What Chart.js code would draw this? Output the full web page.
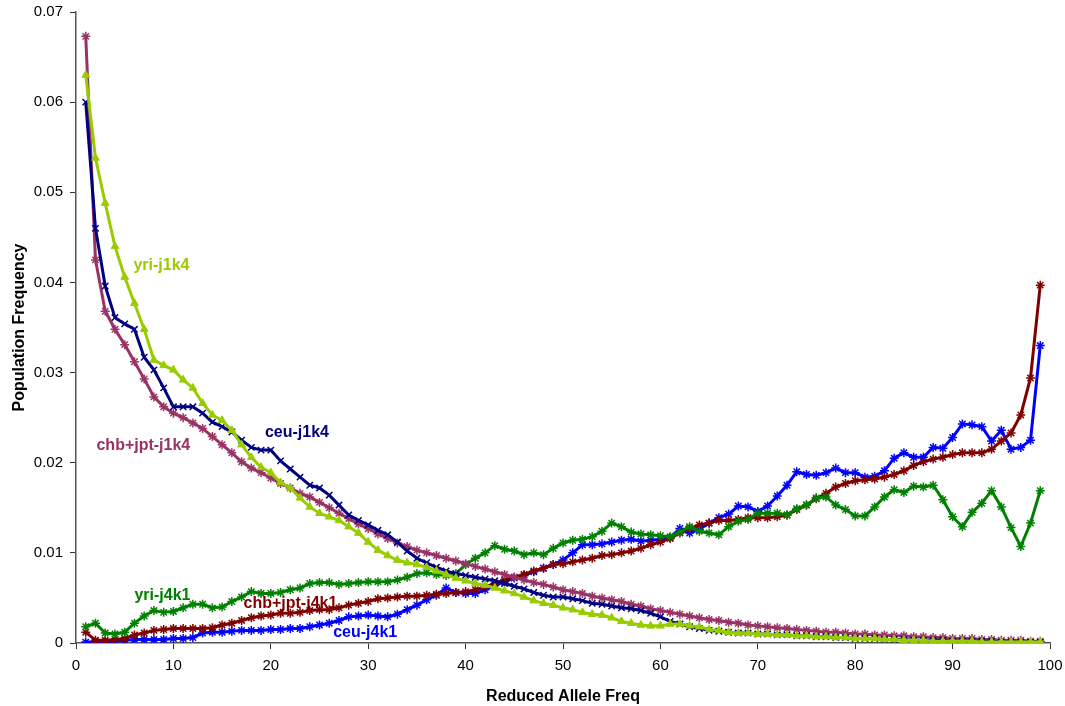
<!DOCTYPE html>
<html>
<head>
<meta charset="utf-8">
<script src="https://cdn.jsdelivr.net/npm/chart.js@4/dist/chart.umd.min.js"></script>
<style>
  html, body { margin: 0; padding: 0; background: #fff; }
  #wrap { width: 1065px; height: 706px; }
</style>
</head>
<body>
<div id="wrap"><canvas id="chart" width="1065" height="706"></canvas></div>
<script>
// Reduced allele frequency bins
const freq = [1,2,3,4,5,6,7,8,9,10,11,12,13,14,15,16,17,18,19,20,
  21,22,23,24,25,26,27,28,29,30,31,32,33,34,35,36,37,38,39,40,
  41,42,43,44,45,46,47,48,49,50,51,52,53,54,55,56,57,58,59,60,
  61,62,63,64,65,66,67,68,69,70,71,72,73,74,75,76,77,78,79,80,
  81,82,83,84,85,86,87,88,89,90,91,92,93,94,95,96,97,98,99];

const yriJ1k4 = [0.0630,0.0538,0.0488,0.0440,0.0406,0.0377,0.0348,0.0314,0.0308,0.0303,
  0.0292,0.0283,0.0266,0.0253,0.0247,0.0236,0.0220,0.0206,0.0195,0.0189,
  0.0178,0.0172,0.0161,0.0151,0.0144,0.0140,0.0136,0.0129,0.0122,0.0112,
  0.0103,0.0097,0.0092,0.0089,0.0087,0.0084,0.0080,0.0076,0.0072,0.0069,
  0.0066,0.0064,0.0061,0.0058,0.0055,0.0051,0.0047,0.0044,0.0042,0.0039,
  0.0037,0.0034,0.0032,0.0031,0.0028,0.0024,0.0022,0.0020,0.0019,0.0019,
  0.0021,0.0021,0.0019,0.0018,0.0015,0.0014,0.0012,0.0011,0.0011,0.0010,
  0.0010,0.0009,0.0009,0.0008,0.0008,0.0007,0.0007,0.0006,0.0006,0.0005,
  0.0005,0.0005,0.0004,0.0004,0.0003,0.0003,0.0003,0.0002,0.0002,0.0002,
  0.0002,0.0002,0.0001,0.0001,0.0001,0.0001,0.0001,0.0001,0.0001];

const ceuJ1k4 = [0.0600,0.0460,0.0396,0.0361,0.0354,0.0348,0.0317,0.0303,0.0283,0.0262,
  0.0262,0.0262,0.0255,0.0245,0.0240,0.0234,0.0225,0.0217,0.0214,0.0214,
  0.0202,0.0193,0.0184,0.0175,0.0172,0.0164,0.0153,0.0142,0.0136,0.0131,
  0.0125,0.0120,0.0112,0.0102,0.0094,0.0089,0.0084,0.0080,0.0077,0.0075,
  0.0073,0.0071,0.0069,0.0066,0.0063,0.0060,0.0056,0.0053,0.0051,0.0051,
  0.0049,0.0047,0.0044,0.0043,0.0041,0.0039,0.0038,0.0036,0.0033,0.0029,
  0.0024,0.0021,0.0018,0.0016,0.0014,0.0013,0.0012,0.0011,0.0011,0.0010,
  0.0010,0.0009,0.0009,0.0008,0.0008,0.0007,0.0007,0.0006,0.0006,0.0005,
  0.0005,0.0005,0.0004,0.0004,0.0004,0.0003,0.0003,0.0003,0.0003,0.0002,
  0.0002,0.0002,0.0002,0.0002,0.0001,0.0001,0.0001,0.0001,0.0001];

const chbJ1k4 = [0.0673,0.0425,0.0368,0.0348,0.0331,0.0312,0.0293,0.0273,0.0262,0.0255,
  0.0250,0.0244,0.0238,0.0229,0.0220,0.0211,0.0201,0.0194,0.0189,0.0183,
  0.0177,0.0172,0.0166,0.0162,0.0156,0.0150,0.0144,0.0138,0.0132,0.0127,
  0.0121,0.0116,0.0111,0.0107,0.0103,0.0100,0.0097,0.0094,0.0091,0.0088,
  0.0085,0.0082,0.0079,0.0076,0.0073,0.0070,0.0067,0.0065,0.0062,0.0059,
  0.0057,0.0055,0.0052,0.0050,0.0048,0.0046,0.0043,0.0041,0.0038,0.0036,
  0.0034,0.0032,0.0030,0.0028,0.0026,0.0025,0.0023,0.0022,0.0020,0.0019,
  0.0018,0.0017,0.0016,0.0015,0.0014,0.0013,0.0012,0.0012,0.0011,0.0010,
  0.0010,0.0009,0.0009,0.0008,0.0008,0.0007,0.0007,0.0006,0.0006,0.0005,
  0.0005,0.0005,0.0004,0.0004,0.0003,0.0003,0.0003,0.0002,0.0002];

const yriJ4k1 = [0.0018,0.0022,0.0011,0.0010,0.0012,0.0022,0.0030,0.0036,0.0034,0.0035,
  0.0039,0.0043,0.0043,0.0039,0.0040,0.0046,0.0051,0.0057,0.0055,0.0055,
  0.0056,0.0059,0.0061,0.0066,0.0067,0.0067,0.0065,0.0066,0.0067,0.0068,
  0.0068,0.0068,0.0070,0.0073,0.0077,0.0078,0.0076,0.0075,0.0077,0.0087,
  0.0094,0.0100,0.0108,0.0104,0.0102,0.0098,0.0100,0.0098,0.0105,0.0111,
  0.0114,0.0115,0.0118,0.0124,0.0133,0.0129,0.0123,0.0121,0.0120,0.0119,
  0.0118,0.0123,0.0129,0.0124,0.0122,0.0120,0.0129,0.0135,0.0137,0.0144,
  0.0144,0.0144,0.0142,0.0149,0.0153,0.0161,0.0162,0.0153,0.0148,0.0141,
  0.0141,0.0151,0.0162,0.0170,0.0167,0.0174,0.0173,0.0175,0.0159,0.0140,
  0.0129,0.0145,0.0155,0.0169,0.0151,0.0128,0.0107,0.0133,0.0169];

const chbJ4k1 = [0.0012,0.0003,0.0003,0.0004,0.0005,0.0009,0.0011,0.0014,0.0015,0.0016,
  0.0016,0.0016,0.0016,0.0017,0.0020,0.0022,0.0025,0.0028,0.0030,0.0031,
  0.0033,0.0033,0.0034,0.0036,0.0037,0.0037,0.0039,0.0042,0.0044,0.0046,
  0.0049,0.0050,0.0051,0.0052,0.0052,0.0053,0.0054,0.0055,0.0056,0.0057,
  0.0059,0.0062,0.0066,0.0070,0.0073,0.0076,0.0080,0.0083,0.0087,0.0088,
  0.0090,0.0092,0.0094,0.0097,0.0098,0.0100,0.0102,0.0105,0.0109,0.0112,
  0.0116,0.0122,0.0127,0.0131,0.0133,0.0136,0.0136,0.0137,0.0139,0.0139,
  0.0139,0.0140,0.0142,0.0148,0.0153,0.0160,0.0166,0.0173,0.0177,0.0180,
  0.0181,0.0182,0.0184,0.0187,0.0191,0.0197,0.0201,0.0204,0.0206,0.0209,
  0.0211,0.0211,0.0211,0.0215,0.0224,0.0233,0.0253,0.0294,0.0397];

const ceuJ4k1 = [0.0001,0.0001,0.0001,0.0002,0.0003,0.0004,0.0004,0.0004,0.0004,0.0005,
  0.0005,0.0006,0.0011,0.0012,0.0012,0.0013,0.0014,0.0014,0.0014,0.0015,
  0.0015,0.0016,0.0016,0.0018,0.0020,0.0022,0.0025,0.0029,0.0030,0.0031,
  0.0030,0.0029,0.0032,0.0037,0.0042,0.0048,0.0053,0.0061,0.0056,0.0055,
  0.0055,0.0059,0.0064,0.0068,0.0072,0.0075,0.0079,0.0083,0.0087,0.0092,
  0.0100,0.0109,0.0109,0.0110,0.0112,0.0114,0.0115,0.0113,0.0114,0.0115,
  0.0117,0.0127,0.0122,0.0126,0.0133,0.0139,0.0143,0.0152,0.0151,0.0146,
  0.0152,0.0163,0.0175,0.0190,0.0187,0.0186,0.0189,0.0194,0.0189,0.0189,
  0.0184,0.0185,0.0191,0.0205,0.0211,0.0206,0.0206,0.0217,0.0216,0.0228,
  0.0243,0.0242,0.0240,0.0224,0.0236,0.0215,0.0217,0.0225,0.0330];

const seriesNames = ['yri-j1k4', 'ceu-j1k4', 'chb+jpt-j1k4', 'yri-j4k1', 'chb+jpt-j4k1', 'ceu-j4k1'];
const seriesColors = ['#99CC00', '#000080', '#993366', '#008000', '#800000', '#0000FF'];
const seriesMarkers = ['triangle', 'crossRot', 'star', 'star', 'star', 'star'];
const seriesValues = [yriJ1k4, ceuJ1k4, chbJ1k4, yriJ4k1, chbJ4k1, ceuJ4k1];

// inline label anchors, in data units (x = freq, y = population frequency)
const labelX = [5.9, 19.4, 2.1, 6.0, 17.2, 26.4];
const labelY = [0.0419, 0.0233, 0.0219, 0.0053, 0.0044, 0.0012];

const yTicks = [0, 0.01, 0.02, 0.03, 0.04, 0.05, 0.06, 0.07];

const datasets = seriesNames.map((name, i) => ({
    label: name,
    data: seriesValues[i].map((v, j) => ({ x: freq[j], y: v })),
    borderColor: seriesColors[i],
    backgroundColor: seriesColors[i],
    borderWidth: 3,
    pointStyle: seriesMarkers[i],
    pointRadius: 4.5,
    pointBorderWidth: seriesMarkers[i] === 'triangle' ? 1 : 1.5,
    pointBorderColor: seriesColors[i],
    pointBackgroundColor: seriesColors[i],
    tension: 0,
    fill: false
}));

// Draws the series names next to the curves
const seriesLabels = {
    id: 'seriesLabels',
    afterDatasetsDraw(chart) {
        const ctx = chart.ctx;
        const xs = chart.scales.x, ys = chart.scales.y;
        ctx.save();
        ctx.font = 'bold 16px "Liberation Sans", Arial, sans-serif';
        ctx.textAlign = 'left';
        ctx.textBaseline = 'middle';
        seriesNames.forEach((name, i) => {
            ctx.fillStyle = seriesColors[i];
            ctx.fillText(name, xs.getPixelForValue(labelX[i]), ys.getPixelForValue(labelY[i]));
        });
        ctx.restore();
    }
};

new Chart(document.getElementById('chart').getContext('2d'), {
    type: 'line',
    data: { datasets: datasets },
    options: {
        responsive: false,
        animation: false,
        events: [],
        layout: { padding: { left: 0, right: 15, top: 12, bottom: 0 } },
        plugins: {
            legend: { display: false },
            tooltip: { enabled: false }
        },
        scales: {
            x: {
                type: 'linear',
                min: 0,
                max: 100,
                afterFit: scale => {
                    scale.height = 63;
                    scale.paddingLeft = 0;
                    scale.paddingRight = 0;
                },
                ticks: {
                    stepSize: 10,
                    padding: 8,
                    color: '#000',
                    font: { family: '"Liberation Sans", Arial, sans-serif', size: 15 }
                },
                grid: {
                    drawOnChartArea: false,
                    drawTicks: true,
                    tickLength: 6,
                    tickColor: '#333'
                },
                border: { color: '#555', width: 1.5 },
                title: {
                    display: true,
                    text: 'Reduced Allele Freq',
                    color: '#000',
                    padding: { top: 0, bottom: 0 },
                    font: { family: '"Liberation Sans", Arial, sans-serif', size: 16, weight: 'bold' }
                }
            },
            y: {
                min: 0,
                max: 0.07,
                afterFit: scale => {
                    scale.width = 76;
                    scale.paddingTop = 0;
                    scale.paddingBottom = 0;
                },
                afterBuildTicks: scale => { scale.ticks = yTicks.map(v => ({ value: v })); },
                ticks: {
                    padding: 7,
                    color: '#000',
                    font: { family: '"Liberation Sans", Arial, sans-serif', size: 15 },
                    callback: value => value === 0 ? '0' : value.toFixed(2)
                },
                grid: {
                    drawOnChartArea: false,
                    drawTicks: true,
                    tickLength: 6,
                    tickColor: '#333'
                },
                border: { color: '#555', width: 1.5 },
                title: {
                    display: true,
                    text: 'Population Frequency',
                    color: '#000',
                    padding: { top: 10, bottom: 0 },
                    font: { family: '"Liberation Sans", Arial, sans-serif', size: 16, weight: 'bold' }
                }
            }
        }
    },
    plugins: [seriesLabels]
});
</script>
</body>
</html>
